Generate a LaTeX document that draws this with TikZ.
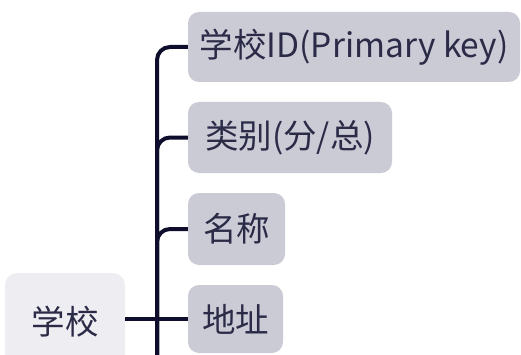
\documentclass[tikz,border=0pt]{standalone}
\usepackage{fontspec}
\setmainfont{Noto Sans CJK SC}
\definecolor{linec}{HTML}{0E0E2C}
\definecolor{txtc}{HTML}{2B2B48}
\definecolor{rootfill}{HTML}{EEEDF2}
\definecolor{childfill}{HTML}{CBCBD6}
\begin{document}
\begin{tikzpicture}[x=1pt,y=1pt,
  rootbox/.style={fill=rootfill, rounded corners=12pt, minimum width=120pt, minimum height=98pt, inner sep=0pt, text=txtc, font=\fontsize{33.5}{38}\selectfont},
  childbox/.style={fill=childfill, rounded corners=11pt, minimum height=70pt, inner sep=0pt, text=txtc, font=\fontsize{33.5}{38}\selectfont},
  conn/.style={draw=linec, line width=4pt, rounded corners=13pt}]
\useasboundingbox (0,0) rectangle (521,354);
\begin{scope}
\clip (0,0) rectangle (521,354);
\node[rootbox] (root) at (65,32) {学校};
\node[childbox, minimum width=332pt] (c1) at (354,307) {学校ID(Primary key)};
\node[childbox, minimum width=204pt, minimum height=71pt] (c2) at (290,216.5) {类别(分/总)};
\node[childbox, minimum width=97pt, minimum height=72pt] (c3) at (236.5,125) {名称};
\node[childbox, minimum width=95pt, minimum height=68pt] (c4) at (235.5,35) {地址};
\coordinate (tb) at (157,-20);
\draw[conn] (tb) |- (c1.west);
\draw[conn] (tb) |- (c2.west);
\draw[conn] (tb) |- (c3.west);
\draw[conn] (root.east |- c4.west) -- (c4.west);
\end{scope}
\end{tikzpicture}
\end{document}
